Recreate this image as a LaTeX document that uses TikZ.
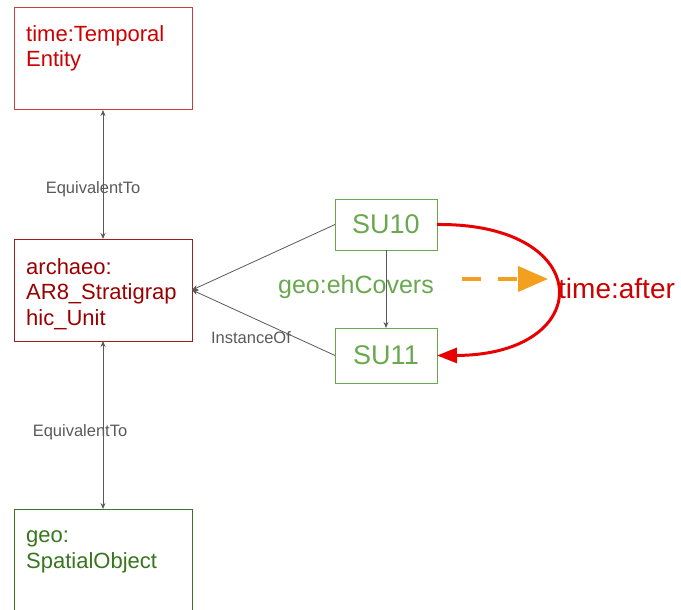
\documentclass[tikz,border=0pt]{standalone}
\usepackage{fontspec}
\setmainfont{Liberation Sans}
\usetikzlibrary{arrows.meta}
\definecolor{tempred}{RGB}{204,0,0}
\definecolor{tempedge}{RGB}{204,60,60}
\definecolor{archred}{RGB}{153,0,0}
\definecolor{archedge}{RGB}{160,30,30}
\definecolor{geogreen}{RGB}{56,118,29}
\definecolor{sugreen}{RGB}{106,168,79}
\definecolor{relgray}{RGB}{89,89,89}
\definecolor{afterred}{RGB}{232,0,0}
\definecolor{hintorange}{RGB}{242,160,30}
\begin{document}
\begin{tikzpicture}[x=1pt,y=-1pt,
  box/.style={draw,line width=1pt,inner sep=0pt,outer sep=0pt,anchor=north west},
  boxtext/.style={anchor=base west,inner sep=0pt,align=left,font=\fontsize{22}{25.5}\selectfont},
  sutext/.style={inner sep=0pt,font=\fontsize{27}{30}\selectfont,text=sugreen},
  rel/.style={draw=relgray,line width=0.8pt},
  reltip/.style={-{Stealth[length=6pt,width=5pt]}},
  bothtip/.style={{Stealth[length=6pt,width=5pt]}-{Stealth[length=6pt,width=5pt]}},
  rellabel/.style={inner sep=0pt,text=relgray,font=\fontsize{16.5}{19}\selectfont}]
\useasboundingbox (0,0) rectangle (681,610);
\clip (0,0) rectangle (681,610);
% class boxes
\node[box,draw=tempedge,minimum width=178pt,minimum height=102pt] (temporal) at (14,8) {};
\node[boxtext,text=tempred] (temporaltext) at (26,67) {time:Temporal\\Entity};
\node[box,draw=archedge,minimum width=178pt,minimum height=102pt] (strat) at (14,239) {};
\node[boxtext,text=archred] (strattext) at (26,325) {archaeo:\\AR8\_Stratigrap\\hic\_Unit};
\node[box,draw=geogreen,minimum width=178pt,minimum height=130pt] (spatial) at (14,509) {};
\node[boxtext,text=geogreen] (spatialtext) at (26,568) {geo:\\SpatialObject};
% units
\node[box,draw=sugreen,minimum width=102pt,minimum height=51pt] (su10) at (335,199) {};
\node[sutext] (su10text) at (su10.center) {SU10};
\node[box,draw=sugreen,minimum width=102pt,minimum height=55pt] (su11) at (335,328) {};
\node[sutext] (su11text) at (su11.center) {SU11};
% labels
\node[rellabel] (eqtop) at (93,189) {EquivalentTo};
\node[rellabel] (eqbot) at (80,432) {EquivalentTo};
\node[rellabel] (inst) at (251,338) {InstanceOf};
\node[inner sep=0pt,text=sugreen,font=\fontsize{25}{28}\selectfont] (covers) at (356,287) {geo:ehCovers};
\node[inner sep=0pt,text=tempred,font=\fontsize{28}{31}\selectfont,anchor=west] (after) at (558,288) {time:after};
% relations
\draw[rel,bothtip] (temporal.south) -- (strat.north);
\draw[rel,bothtip] (strat.south) -- (spatial.north);
\draw[rel,reltip] (su10.west) -- (strat.east);
\draw[rel,reltip] (su11.west) -- (strat.east);
\draw[rel,reltip] (su10.south) -- (su11.north);
\draw[afterred,line width=3pt,-{Triangle[length=20pt,width=15pt]}] (su10.east) .. controls (597,223) and (597,355) .. (su11.east);
\coordinate (hintstart) at (462,279);
\coordinate (hintend) at (548,279);
\draw[hintorange,line width=4pt,dash pattern=on 19pt off 17pt,-{Triangle[length=30pt,width=25pt]}] (hintstart) -- (hintend);
\end{tikzpicture}
\end{document}
